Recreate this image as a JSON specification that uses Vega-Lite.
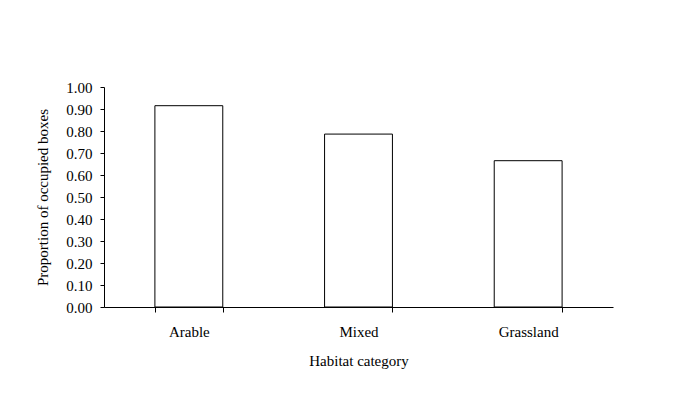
{
  "$schema": "https://vega.github.io/schema/vega-lite/v6.json",
  "autosize": "none",
  "width": 509,
  "height": 220,
  "padding": {"left": 104, "top": 87, "right": 75, "bottom": 87},
  "background": "white",
  "data": {"values": [
    {"habitat": "Arable", "proportion": 0.915},
    {"habitat": "Mixed", "proportion": 0.786},
    {"habitat": "Grassland", "proportion": 0.665}
  ]},
  "mark": {"type": "bar", "fill": "white", "stroke": "black", "strokeWidth": 1},
  "encoding": {
    "x": {
      "field": "habitat", "type": "nominal", "sort": null,
      "scale": {"paddingInner": 0.6, "paddingOuter": 0.3},
      "axis": {
        "title": "Habitat category", "labelAngle": 0, "tickBand": "extent",
        "tickSize": 5, "labelPadding": 12, "titlePadding": 14
      }
    },
    "y": {
      "field": "proportion", "type": "quantitative",
      "scale": {"domain": [0, 1], "nice": false},
      "axis": {
        "title": "Proportion of occupied boxes", "values": [0, 0.1, 0.2, 0.3, 0.4, 0.5, 0.6, 0.7, 0.8, 0.9, 1.0],
        "format": ".2f", "grid": false, "tickSize": 4, "labelPadding": 8, "titlePadding": 15
      }
    }
  },
  "config": {
    "view": {"stroke": null},
    "axis": {
      "domainColor": "black", "tickColor": "black", "domainWidth": 1, "tickWidth": 1,
      "labelFont": "Liberation Serif", "titleFont": "Liberation Serif",
      "labelFontSize": 15, "titleFontSize": 15, "titleFontWeight": "normal",
      "labelColor": "black", "titleColor": "black", "grid": false
    }
  }
}
